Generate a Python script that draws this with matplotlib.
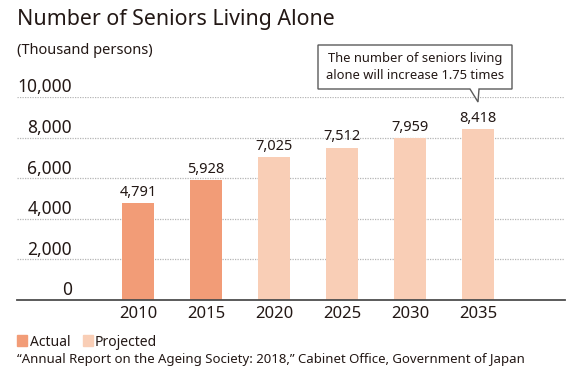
import matplotlib.pyplot as plt
from matplotlib.patches import Patch, Polygon

plt.rcParams['font.family'] = ['Noto Sans', 'DejaVu Sans']

years = ['2010', '2015', '2020', '2025', '2030', '2035']
values = [4791, 5928, 7025, 7512, 7959, 8418]
kind = ['Actual', 'Actual', 'Projected', 'Projected', 'Projected', 'Projected']
yticks = [0, 2000, 4000, 6000, 8000, 10000]

colors = {'Actual': '#F29C77', 'Projected': '#F9CEB6'}
txt = '#231815'

W, H = 582, 380
fig = plt.figure(figsize=(W / 100, H / 100), dpi=100)
ax = fig.add_axes([17 / W, 1 - 300 / H, 548 / W, 203 / H])

x = list(range(len(years)))
ax.bar(x, values, width=0.46, color=[colors[k] for k in kind], zorder=2)
ax.set_xlim((17 - 138) / 68, (565 - 138) / 68)
ax.set_ylim(0, 10000)

for xi, v in zip(x, values):
    ax.text(xi, v + 150, f'{v:,}', ha='center', va='bottom', fontsize=10.5, color=txt)

for t in yticks:
    if t > 0:
        ax.axhline(t, color='#b5b5b5', lw=0.9, ls=(0, (1, 1)), zorder=1)
    ax.text((72 - 17) / 548, t + 30, f'{t:,}', transform=ax.get_yaxis_transform(),
            ha='right', va='bottom', fontsize=12.5, color=txt)

ax.set_xticks(x)
ax.set_xticklabels(years, fontsize=12, color=txt)
ax.tick_params(axis='x', length=0, pad=4)
ax.set_yticks([])
for s in ['top', 'right', 'left']:
    ax.spines[s].set_visible(False)
ax.spines['bottom'].set_color('#4d4d4d')
ax.spines['bottom'].set_linewidth(1.3)

# callout box with tail pointing at the 2035 bar
pts = [(318, 45), (512, 45), (512, 89), (479, 89), (478, 102), (470, 89), (318, 89)]
fig.patches.append(Polygon([(px / W, 1 - py / H) for px, py in pts], closed=True,
                           transform=fig.transFigure, fc='white', ec='#5a5a5a', lw=1.0))
fig.text(415 / W, 1 - 67 / H, 'The number of seniors living\nalone will increase 1.75 times',
         ha='center', va='center', fontsize=9.3, color=txt, linespacing=1.45)

fig.text(17 / W, 1 - 20 / H, 'Number of Seniors Living Alone', fontsize=15.4, color=txt, va='center')
fig.text(17 / W, 1 - 50 / H, '(Thousand persons)', fontsize=10.5, color=txt, va='center')

handles = [Patch(color=colors['Actual'], label='Actual'),
           Patch(color=colors['Projected'], label='Projected')]
fig.legend(handles=handles, loc='center left', bbox_to_anchor=(17 / W, 1 - 342 / H), ncol=2,
           frameon=False, fontsize=10, handlelength=0.75, handleheight=0.8,
           handletextpad=0.15, columnspacing=0.9, labelcolor=txt,
           borderpad=0, borderaxespad=0)
fig.text(17 / W, 1 - 359 / H,
         '\u201cAnnual Report on the Ageing Society: 2018,\u201d Cabinet Office, Government of Japan',
         fontsize=9.5, color=txt, va='center')

fig.savefig('out.png', dpi=100)
